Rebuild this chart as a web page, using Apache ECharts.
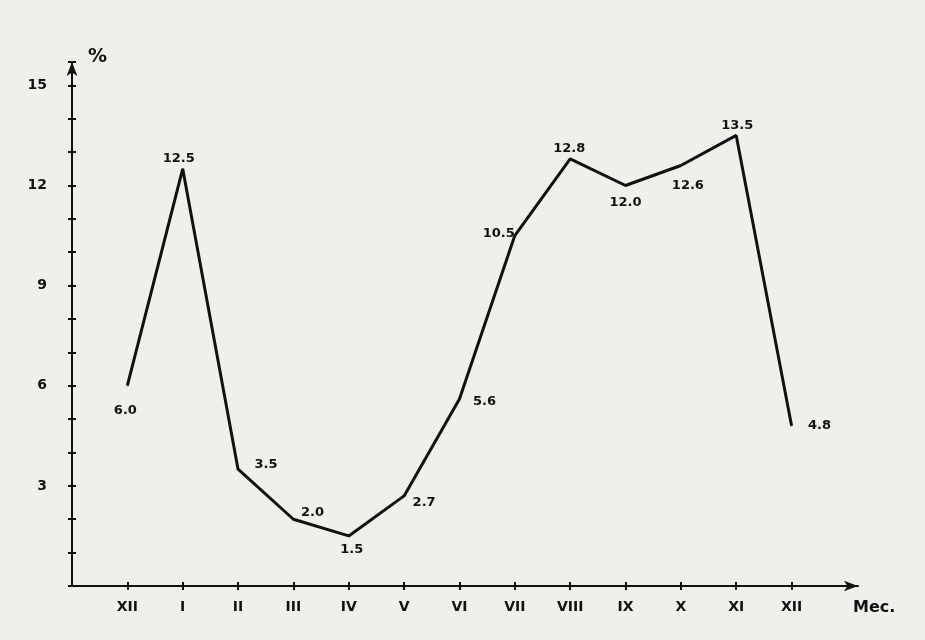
<!DOCTYPE html>
<html>
<head>
<meta charset="utf-8">
<script src="https://cdn.jsdelivr.net/npm/echarts@6/dist/echarts.min.js"></script>
<style>
html,body{margin:0;padding:0;background:#efefec;}
#chart{width:925px;height:640px;}
</style>
</head>
<body>
<div id="chart"></div>
<script>
const months = ['XII','I','II','III','IV','V','VI','VII','VIII','IX','X','XI','XII'];
const values = [6.0, 12.5, 3.5, 2.0, 1.5, 2.7, 5.6, 10.5, 12.8, 12.0, 12.6, 13.5, 4.8];
const yTickLabels = [3, 6, 9, 12, 15];
const xName = 'Мес.';
const yName = '%';

// label placement (style, not data)
const labelOffsets = [[-2,25],[-4,-10],[28,-5],[19,-7],[3,14],[20,7],[25,3],[-16,-2],[-1,-10],[0,17],[7,20],[1,-10],[28,0]];

const font = 'DejaVu Sans';
const ink = '#111';
const idx = months.map((m,i)=>i);

const chart = echarts.init(document.getElementById('chart'));
const axisLineStyle = {color: ink, width: 2};
chart.setOption({
  backgroundColor: '#efefec',
  animation: false,
  grid: {left: 72, right: 67, top: 62, bottom: 54},
  xAxis: [{
    type: 'value', min: -1, max: 13.2, interval: 1,
    splitLine: {show: false},
    axisLine: {show: true, onZero: false, lineStyle: axisLineStyle, symbol: ['none','arrow'], symbolSize: [8,14]},
    axisTick: {show: true, customValues: idx, length: 4, lineStyle: {color: ink, width: 2}},
    axisLabel: {customValues: idx, formatter: v => months[Math.round(v)] || '', color: ink, fontFamily: font, fontWeight: 'bold', fontSize: 14, margin: 14},
    name: xName, nameLocation: 'end', nameGap: -5,
    nameTextStyle: {color: ink, fontFamily: font, fontWeight: 'bold', fontSize: 16, align: 'left', verticalAlign: 'top', padding: [14,0,0,0]}
  }, {
    type: 'value', min: -1, max: 13.2, position: 'bottom',
    splitLine: {show: false},
    axisLine: {show: false, onZero: false},
    axisTick: {show: true, inside: true, customValues: idx, length: 4, lineStyle: {color: ink, width: 2}},
    axisLabel: {show: false}
  }],
  yAxis: [{
    type: 'value', min: 0, max: 15.7, interval: 1,
    splitLine: {show: false},
    axisLine: {show: true, onZero: false, lineStyle: axisLineStyle, symbol: ['none','arrow'], symbolSize: [8,14]},
    axisTick: {show: true, length: 4, lineStyle: {color: ink, width: 2}},
    axisLabel: {formatter: v => yTickLabels.indexOf(v) >= 0 ? String(v) : '', color: ink, fontFamily: font, fontWeight: 'bold', fontSize: 14, margin: 25},
    name: yName, nameLocation: 'end', nameGap: -5,
    nameTextStyle: {color: ink, fontFamily: font, fontWeight: 'bold', fontSize: 19, align: 'left', padding: [0,0,0,16]}
  }, {
    type: 'value', min: 0, max: 15.7, interval: 1, position: 'left',
    splitLine: {show: false},
    axisLine: {show: false, onZero: false},
    axisTick: {show: true, inside: true, length: 4, lineStyle: {color: ink, width: 2}},
    axisLabel: {show: false}
  }],
  series: [{
    type: 'line',
    data: values.map((v,i)=>({
      value: [i, v],
      label: {offset: labelOffsets[i]}
    })),
    symbol: 'circle', symbolSize: 1, showSymbol: true,
    itemStyle: {color: ink},
    lineStyle: {color: ink, width: 3},
    label: {show: true, position: 'inside', align: 'center', verticalAlign: 'middle',
      formatter: p => p.value[1].toFixed(1),
      color: ink, fontFamily: font, fontWeight: 'bold', fontSize: 13},
    z: 5
  }]
});
</script>
</body>
</html>
